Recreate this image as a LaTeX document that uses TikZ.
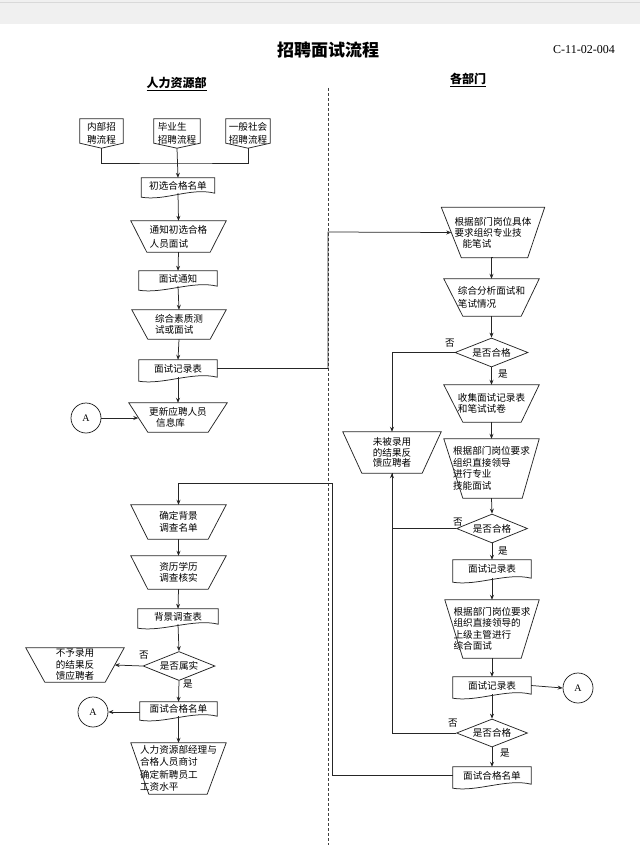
\documentclass[tikz,border=0pt]{standalone}
\usepackage{fontspec}
\setmainfont{Liberation Serif}
\newfontfamily\cjk{Noto Sans CJK SC}
\usetikzlibrary{shapes.geometric,calc,arrows.meta}
% trapezoid drawn round a named node: name, left inset, right inset
\newcommand\trapz[3]{\draw[shp] (#1.north west) -- (#1.north east) -- ([xshift=-#3]#1.south east) -- ([xshift=#2]#1.south west) -- cycle;}
% document shape (wavy bottom) round a named node
\newcommand\docz[1]{\draw[shp] (#1.north west) -- (#1.north east) -- (#1.south east) .. controls ([xshift=-24,yshift=6]#1.south east) and ([xshift=24,yshift=-8]#1.south west) .. ([yshift=-4]#1.south west) -- cycle;}
% off-page (pentagon) shape round a named node
\newcommand\pent[1]{\draw[shp] (#1.north west) -- (#1.north east) -- ([yshift=5]#1.south east) -- (#1.south) -- ([yshift=5]#1.south west) -- cycle;}
\begin{document}
\begin{tikzpicture}[x=1pt,y=-1pt,
  shp/.style={draw=black!85,line width=0.75pt},
  con/.style={draw=black!85,line width=0.75pt},
  arr/.style={con,-{Stealth[length=5pt,width=4pt]}},
  txt/.style={font=\cjk\fontsize{9.6}{11.5}\selectfont,inner sep=0pt,align=left},
  lbl/.style={font=\cjk\fontsize{9.6}{11}\selectfont,inner sep=0pt},
  bx/.style={txt,rectangle,draw=none},
  dia/.style={diamond,shp,txt,aspect=2.5,minimum width=72,minimum height=29},
  circ/.style={circle,shp,minimum size=30,inner sep=0pt,font=\fontsize{10}{12}\selectfont},
  hdr/.style={font=\cjk\bfseries\fontsize{12}{14}\selectfont,inner sep=0pt}
]
\useasboundingbox (0,0) rectangle (640,845);
\fill[gray!12] (0,0) rectangle (640,24);
\draw[gray!30,line width=0.6pt] (0,2) -- (640,2);

% titles
\node[font=\cjk\bfseries\fontsize{17}{20}\selectfont,inner sep=0pt] (title) at (328,50) {招聘面试流程};
\node[font=\fontsize{12}{14}\selectfont,inner sep=0pt] (code) at (584,50) {C-11-02-004};
\node[hdr] (h1) at (176.5,84) {\underline{人力资源部}};
\node[hdr] (h2) at (468,80) {\underline{各部门}};

% swimlane separator
\draw[black!75,line width=0.8pt,dash pattern=on 3pt off 2pt] (328,88) -- (328,845);

% ---------- left column ----------
\node[bx,font=\cjk\fontsize{9.6}{13}\selectfont,minimum width=43,minimum height=29] (P1) at (101.5,133.5) {内部招\\聘流程}; \pent{P1}
\node[bx,font=\cjk\fontsize{9.6}{13}\selectfont,minimum width=46,minimum height=29] (P2) at (177,133.5) {毕业生\\招聘流程}; \pent{P2}
\node[bx,font=\cjk\fontsize{9.6}{13}\selectfont,minimum width=44,minimum height=29] (P3) at (248,133.5) {一般社会\\招聘流程}; \pent{P3}

\node[bx,minimum width=73,minimum height=15] (C1) at (178,185.5) {初选合格名单}; \docz{C1}
\node[bx,font=\cjk\fontsize{9.6}{14}\selectfont,minimum width=95,minimum height=31] (T1) at (178.5,236.5) {通知初选合格\\人员面试}; \trapz{T1}{16}{16}
\node[bx,minimum width=78,minimum height=15] (N1) at (178,278.5) {面试通知}; \docz{N1}
\node[bx,minimum width=94,minimum height=29] (T2) at (179,324.5) {综合素质测\\试或面试}; \trapz{T2}{16}{16}
\node[bx,minimum width=78,minimum height=17] (LR) at (178,368.5) {面试记录表}; \docz{LR}
\node[bx,minimum width=98,minimum height=29] (T3) at (178,417.5) {更新应聘人员\\\hspace*{7pt}信息库}; \trapz{T3}{19}{19}
\node[circ] (A1) at (86,418) {A};

\node[bx,minimum width=95,minimum height=34] (T4) at (178.5,522) {确定背景\\调查名单}; \trapz{T4}{17}{18}
\node[bx,minimum width=95,minimum height=33] (T5) at (178.5,572.5) {资历学历\\调查核实}; \trapz{T5}{17}{18}
\node[bx,minimum width=80,minimum height=15] (BG) at (178,616.5) {背景调查表}; \docz{BG}
\node[dia] (D1) at (179,666) {是否属实};
\node[bx,minimum width=98,minimum height=34] (T6) at (75,665) {不予录用\\的结果反\\馈应聘者}; \trapz{T6}{19}{19}
\node[bx,minimum width=77,minimum height=14] (LF) at (178.5,709) {面试合格名单}; \docz{LF}
\node[circ] (A2) at (93,712) {A};
\node[bx,font=\cjk\fontsize{9.6}{12.5}\selectfont,minimum width=95,minimum height=51] (T7) at (178.5,768.5) {人力资源部经理与\\合格人员商讨\\确定新聘员工\\工资水平}; \trapz{T7}{18}{19}

\node[lbl] (n1) at (144,655) {否};
\node[lbl] (y1) at (188,684) {是};

% ---------- right column ----------
\node[bx,font=\cjk\fontsize{9.6}{11}\selectfont,minimum width=103,minimum height=50] (R1) at (493,232.5) {根据部门岗位具体\\要求组织专业技\\\hspace*{8pt}能笔试}; \trapz{R1}{20}{17}
\node[bx,font=\cjk\fontsize{9.6}{12.5}\selectfont,minimum width=95,minimum height=37] (R2) at (491.5,297.5) {综合分析面试和\\笔试情况}; \trapz{R2}{19}{18}
\node[dia,minimum width=73] (D2) at (491.5,352.5) {是否合格};
\node[bx,minimum width=95,minimum height=37] (R3) at (491.5,403.5) {收集面试记录表\\和笔试试卷}; \trapz{R3}{19}{18}
\node[bx,minimum width=95,minimum height=59] (R4) at (491.5,468.5) {根据部门岗位要求\\组织直接领导\\进行专业\\技能面试}; \trapz{R4}{19}{17}
\node[bx,font=\cjk\fontsize{9.6}{10.8}\selectfont,minimum width=98,minimum height=41,align=center] (R5) at (392,452.5) {未被录用\\的结果反\\馈应聘者}; \trapz{R5}{19}{19}
\node[dia,minimum width=71] (D3) at (492,528.5) {是否合格};
\node[bx,minimum width=78,minimum height=18] (RD1) at (492,569) {面试记录表}; \docz{RD1}
\node[bx,minimum width=94,minimum height=58] (R6) at (492,629) {根据部门岗位要求\\组织直接领导的\\上级主管进行\\综合面试}; \trapz{R6}{18}{18}
\node[bx,minimum width=78,minimum height=17] (RD2) at (492,685.5) {面试记录表}; \docz{RD2}
\node[circ] (A3) at (578,688) {A};
\node[dia,minimum width=71,minimum height=28] (D4) at (492,733) {是否合格};
\node[bx,minimum width=78,minimum height=17] (RF) at (492,775.5) {面试合格名单}; \docz{RF}

\node[lbl] (n2) at (450,343) {否};
\node[lbl] (y2) at (503,374) {是};
\node[lbl] (n3) at (458,522) {否};
\node[lbl] (y3) at (503,551) {是};
\node[lbl] (n4) at (453,723) {否};
\node[lbl] (y4) at (505,753) {是};

% ---------- connectors ----------
\coordinate (J) at (P2.south |- 0,163);
\draw[con] (P1.south) |- (J) -| (P3.south);
\draw[arr] (P2.south) -- (C1.north);
\draw[arr] (C1.south) -- (T1.north);
\draw[arr] (T1.south) -- (N1.north);
\draw[arr] (N1.south) -- (T2.north);
\draw[arr] (T2.south) -- (LR.north);
\draw[arr] (LR.south) -- (T3.north);
\coordinate (T3w) at ($(T3.north west)!.5!([xshift=19]T3.south west)$);
\draw[arr] (A1.east) -- (A1.east -| T3w);

\coordinate (R1w) at ($(R1.north west)!.5!([xshift=20]R1.south west)$);
\coordinate (X1) at (328,232);
\draw[arr] (LR.east) -| (X1) -- (R1w);

\draw[arr] (R1.south) -- (R1.south -| R2.north) -- (R2.north);
\draw[arr] (R2.south) -- (D2.north);
\draw[arr] (D2.west) -| (R5.north);
\draw[arr] (D2.south) -- (R3.north);
\draw[arr] (R3.south) -- (R4.north);
\draw[arr] (R4.south) -- (D3.north);
\draw[arr] (D3.west) -| (R5.south);
\draw[arr] (D3.south) -- (RD1.north);
\draw[arr] (RD1.south) -- (R6.north);
\draw[arr] (R6.south) -- (RD2.north);
\draw[arr] (RD2.east) -- (A3.west);
\draw[arr] (RD2.south) -- (D4.north);
\draw[con] (D4.west) -| (R5.south);
\draw[arr] (D4.south) -- (RF.north);

\coordinate (X2) at (332,483);
\draw[arr] (RF.west) -| (X2) -| (T4.north);
\draw[arr] (T4.south) -- (T5.north);
\draw[arr] (T5.south) -- (BG.north);
\draw[arr] (BG.south) -- (D1.north);
\coordinate (T6e) at ($(T6.north east)!.5!([xshift=-19]T6.south east)$);
\draw[arr] (D1.west) -- (T6e);
\draw[arr] (D1.south) -- (LF.north);
\draw[arr] (A2.east -| LF.west) -- (A2.east);
\draw[arr] (LF.south) -- (T7.north);
\end{tikzpicture}
\end{document}
